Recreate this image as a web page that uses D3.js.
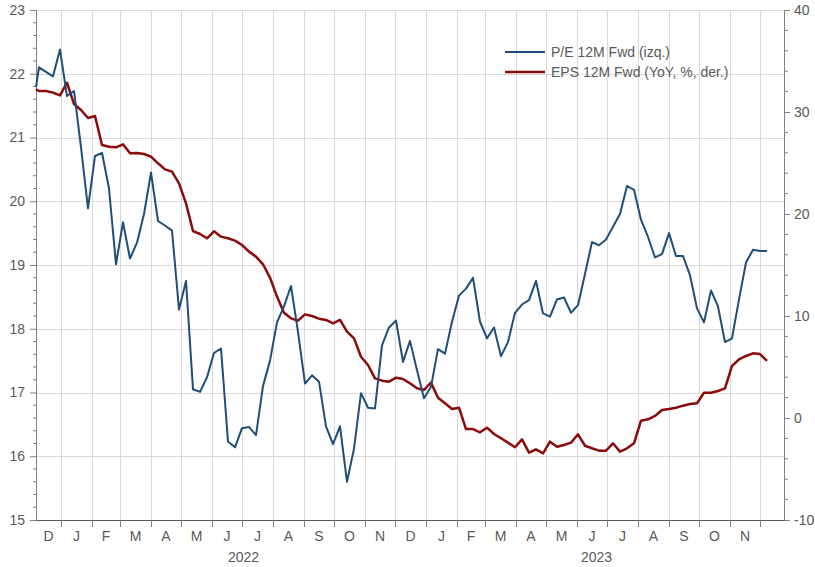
<!DOCTYPE html>
<html>
<head>
<meta charset="utf-8">
<script src="https://cdnjs.cloudflare.com/ajax/libs/d3/7.8.5/d3.min.js"></script>
<style>
  body { margin: 0; background: #fff; }
  text { font-family: "Liberation Sans", Arial, sans-serif; fill: #595959; }
</style>
</head>
<body>
<div id="chart"></div>
<script>
// first observation, then weekly (Friday) observations
const firstDate = "2021-12-07";
const weeklyStart = "2021-12-10";

// P/E 12M Fwd (left axis)
const peValues = [21.79,
  22.10, 22.03, 21.96, 22.38, 21.65, 21.73, 20.85, 19.89, 20.71, 20.76,
  20.20, 19.01, 19.67, 19.10, 19.35, 19.80, 20.45, 19.69, 19.62, 19.54,
  18.30, 18.75, 17.05, 17.01, 17.24, 17.62, 17.69, 16.23, 16.14, 16.44,
  16.46, 16.33, 17.10, 17.50, 18.10, 18.35, 18.67, 17.95, 17.14, 17.27,
  17.17, 16.47, 16.19, 16.47, 15.60, 16.12, 16.99, 16.76, 16.75, 17.74,
  18.02, 18.13, 17.48, 17.81, 17.35, 16.91, 17.09, 17.68, 17.61, 18.11,
  18.52, 18.63, 18.80, 18.11, 17.85, 18.02, 17.57, 17.79, 18.25, 18.38,
  18.45, 18.75, 18.24, 18.19, 18.46, 18.49, 18.25, 18.37, 18.86, 19.36,
  19.31, 19.40, 19.60, 19.80, 20.24, 20.18, 19.71, 19.44, 19.12, 19.17,
  19.50, 19.14, 19.14, 18.84, 18.32, 18.10, 18.60, 18.35, 17.79, 17.85,
  18.46, 19.04, 19.24, 19.22, 19.22];

// EPS 12M Fwd, YoY % (right axis)
const epsValues = [32.22,
  32.06, 32.06, 31.90, 31.63, 32.87, 30.78, 30.20, 29.41, 29.61, 26.76,
  26.60, 26.54, 26.83, 25.95, 25.98, 25.88, 25.62, 24.97, 24.38, 24.15,
  23.00, 21.05, 18.33, 18.04, 17.62, 18.30, 17.78, 17.62, 17.39, 16.96,
  16.31, 15.82, 15.07, 13.76, 11.90, 10.32, 9.77, 9.54, 10.16, 10.00,
  9.74, 9.61, 9.28, 9.61, 8.46, 7.81, 6.01, 5.20, 3.89, 3.66,
  3.56, 3.95, 3.82, 3.40, 2.91, 2.75, 3.47, 1.99, 1.44, 0.88,
  1.01, -1.08, -1.08, -1.40, -0.95, -1.57, -1.99, -2.42, -2.87, -2.09,
  -3.40, -3.07, -3.46, -2.32, -2.81, -2.65, -2.42, -1.60, -2.72, -2.97,
  -3.20, -3.20, -2.48, -3.30, -2.97, -2.48, -0.26, -0.13, 0.20, 0.78,
  0.88, 1.01, 1.21, 1.37, 1.44, 2.48, 2.48, 2.65, 2.91, 5.10,
  5.75, 6.08, 6.34, 6.27, 5.59];

const seriesNames = ["P/E 12M Fwd (izq.)", "EPS 12M Fwd (YoY, %, der.)"];
const seriesColors = ["#1f4e79", "#8b0a0a"];
const monthLetters = ["J","F","M","A","M","J","J","A","S","O","N","D"];
const leftTicks = [15, 16, 17, 18, 19, 20, 21, 22, 23];
const rightTicks = [-10, 0, 10, 20, 30, 40];
const axisStart = "2021-12-07";
const axisEnd = "2023-12-25";

const width = 815, height = 567;
const margin = {top: 10, right: 31, bottom: 47, left: 36};

const parse = d3.utcParse("%Y-%m-%d");
const dates = [parse(firstDate)].concat(
  d3.range(peValues.length - 1).map(i => d3.utcDay.offset(parse(weeklyStart), 7 * i)));
const data = dates.map((d, i) => ({date: d, pe: peValues[i], eps: epsValues[i]}));

const svg = d3.select("#chart").append("svg")
  .attr("width", width).attr("height", height);

const x = d3.scaleUtc()
  .domain([parse(axisStart), parse(axisEnd)])
  .range([margin.left, width - margin.right]);
const yL = d3.scaleLinear().domain([15, 23]).range([height - margin.bottom, margin.top]);
const yR = d3.scaleLinear().domain([-10, 40]).range([height - margin.bottom, margin.top]);

const monthBounds = d3.utcMonth.range(d3.utcMonth.ceil(x.domain()[0]), x.domain()[1]);

// grid
const grid = svg.append("g").attr("stroke", "#d9d9d9").attr("stroke-width", 1);
grid.selectAll(".h").data(leftTicks.slice(1)).join("line")
  .attr("x1", margin.left).attr("x2", width - margin.right)
  .attr("y1", d => Math.round(yL(d)) + 0.5).attr("y2", d => Math.round(yL(d)) + 0.5);
grid.selectAll(".v").data(monthBounds).join("line")
  .attr("x1", d => Math.round(x(d)) + 0.5).attr("x2", d => Math.round(x(d)) + 0.5)
  .attr("y1", margin.top).attr("y2", height - margin.bottom);

// left axis
const axL = svg.append("g").attr("transform", `translate(${margin.left},0)`)
  .call(d3.axisLeft(yL).tickValues(leftTicks).tickFormat(d => String(d)).tickSize(6).tickPadding(5));
axL.append("g").selectAll("line")
  .data(d3.range(15, 23.01, 0.2).filter(v => Math.abs(v - Math.round(v)) > 0.01))
  .join("line").attr("x1", -3).attr("x2", 0)
  .attr("y1", d => yL(d)).attr("y2", d => yL(d));

// right axis
const axR = svg.append("g").attr("transform", `translate(${width - margin.right},0)`)
  .call(d3.axisRight(yR).tickValues(rightTicks).tickFormat(d => String(d)).tickSize(6).tickPadding(4));
axR.append("g").selectAll("line")
  .data(d3.range(-10, 40.01, 2).filter(v => v % 10 !== 0))
  .join("line").attr("x1", 0).attr("x2", 4)
  .attr("y1", d => yR(d)).attr("y2", d => yR(d));

// bottom axis
const axB = svg.append("g").attr("transform", `translate(0,${height - margin.bottom})`)
  .call(d3.axisBottom(x).tickValues(monthBounds).tickFormat("").tickSize(7).tickSizeOuter(0));

[axL, axR, axB].forEach(a => {
  a.selectAll("path, line").attr("stroke", "#7f7f7f");
  a.selectAll("text").attr("fill", "#595959").style("font-size", "14px");
});
axB.select(".domain").attr("stroke", "#595959");

// month letters at month centres
const monthStarts = [parse(axisStart)].concat(monthBounds);
const monthLabels = monthStarts.slice(0, -1).map((d, i) => ({
  mid: (x(d) + x(monthStarts[i + 1])) / 2,
  label: monthLetters[d.getUTCMonth()]
}));
svg.append("g").selectAll("text").data(monthLabels).join("text")
  .attr("x", d => d.mid).attr("y", height - margin.bottom + 21)
  .attr("text-anchor", "middle").style("font-size", "14px")
  .text(d => d.label);

// year labels
const years = [
  {label: "2022", from: parse("2022-01-01"), to: parse("2023-01-01")},
  {label: "2023", from: parse("2023-01-01"), to: dates[dates.length - 1]}
];
svg.append("g").selectAll("text").data(years).join("text")
  .attr("x", d => (x(d.from) + x(d.to)) / 2).attr("y", height - 5)
  .attr("text-anchor", "middle").style("font-size", "14px")
  .text(d => d.label);

// lines
const linePE = d3.line().x(d => x(d.date)).y(d => yL(d.pe));
const lineEPS = d3.line().x(d => x(d.date)).y(d => yR(d.eps));
svg.append("path").datum(data).attr("d", lineEPS)
  .attr("fill", "none").attr("stroke", seriesColors[1]).attr("stroke-width", 2.5)
  .attr("stroke-linejoin", "round");
svg.append("path").datum(data).attr("d", linePE)
  .attr("fill", "none").attr("stroke", seriesColors[0]).attr("stroke-width", 2)
  .attr("stroke-linejoin", "round");

// legend
const legend = svg.append("g").attr("transform", "translate(505,52)");
const li = legend.selectAll("g").data(seriesNames).join("g")
  .attr("transform", (d, i) => `translate(0,${i * 20})`);
li.append("line").attr("x1", 0).attr("x2", 40)
  .attr("stroke", (d, i) => seriesColors[i]).attr("stroke-width", (d, i) => i ? 2.5 : 2);
li.append("text").attr("x", 46).attr("dy", "0.35em").style("font-size", "14px")
  .text(d => d);
</script>
</body>
</html>
